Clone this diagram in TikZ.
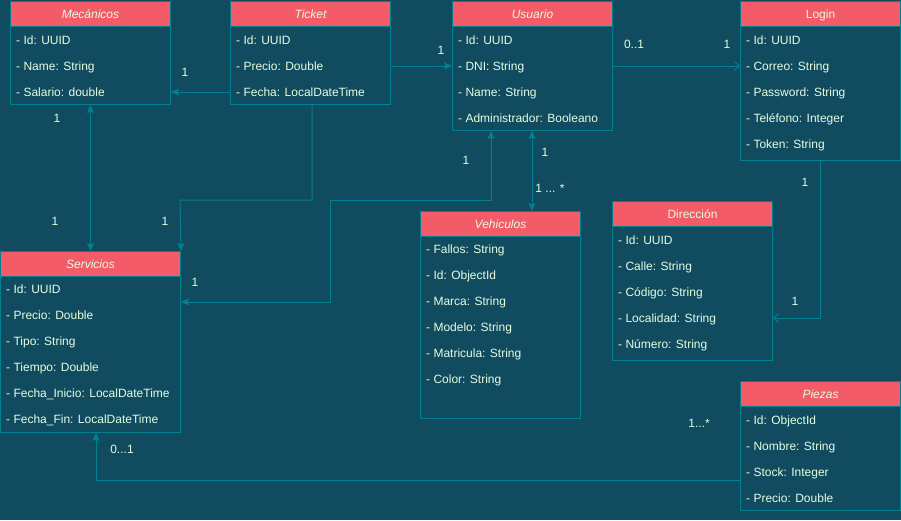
\documentclass[tikz,border=0pt]{standalone}
\usepackage{fontspec}
\setmainfont{Liberation Sans}
\usetikzlibrary{arrows.meta}
\definecolor{bg}{HTML}{114B5F}
\definecolor{head}{HTML}{F45B69}
\definecolor{edge}{HTML}{028090}
\definecolor{ink}{HTML}{E4FDE1}

\begin{document}
\begin{tikzpicture}[x=1pt,y=-1pt,
  font=\fontsize{12}{14}\selectfont,
  hdr/.style={draw=edge, fill=head, text=ink, line width=1pt, anchor=north west,
              inner sep=0pt, minimum width=#1, minimum height=25pt,
              text height=8.6pt, text depth=0pt},
  body/.style={draw=edge, fill=bg, line width=1pt, anchor=north west, inner sep=0pt},
  attr/.style={text=ink, anchor=base west, inner sep=0pt},
  lbl/.style={text=ink, inner sep=0pt},
  link/.style={draw=edge, line width=1pt},
  ftip/.tip={Stealth[length=8pt,width=7pt,inset=1.5pt]},
  otip/.tip={Straight Barb[length=5pt,width=9pt,line width=1pt]},
]
% background and page size
\fill[bg] (0,0) rectangle (901,520);
\useasboundingbox (0,0) rectangle (901,520);

% ---------- Mecánicos ----------
\node[hdr=160pt] (mecH) at (10,1) {\itshape Mecánicos};
\node[body, minimum width=160pt, minimum height=78pt] (mec) at (10,26) {};
\foreach \t [count=\i] in {- Id: UUID, - Name: String, - Salario: double}
  \node[attr] (mec-\i) at (16,{44.3+26*(\i-1)}) {\t};

% ---------- Ticket ----------
\node[hdr=160pt] (ticH) at (230,1) {\itshape Ticket};
\node[body, minimum width=160pt, minimum height=78pt] (tic) at (230,26) {};
\foreach \t [count=\i] in {- Id: UUID, - Precio: Double, - Fecha: LocalDateTime}
  \node[attr] (tic-\i) at (236,{44.3+26*(\i-1)}) {\t};

% ---------- Usuario ----------
\node[hdr=160pt] (usuH) at (452,1) {\itshape Usuario};
\node[body, minimum width=160pt, minimum height=104pt] (usu) at (452,26) {};
\foreach \t [count=\i] in {- Id: UUID, - DNI: String, - Name: String, - Administrador: Booleano}
  \node[attr] (usu-\i) at (458,{44.3+26*(\i-1)}) {\t};

% ---------- Login ----------
\node[hdr=160pt] (logH) at (740,1) {Login};
\node[body, minimum width=160pt, minimum height=134pt] (log) at (740,26) {};
\foreach \t [count=\i] in {- Id: UUID, - Correo: String, - Password: String, - Teléfono: Integer, - Token: String}
  \node[attr] (log-\i) at (746,{44.3+26*(\i-1)}) {\t};

% ---------- Servicios ----------
\node[hdr=180pt] (serH) at (0,251) {\itshape Servicios};
\node[body, minimum width=180pt, minimum height=156pt] (ser) at (0,276) {};
\foreach \t [count=\i] in {- Id: UUID, - Precio: Double, - Tipo: String, - Tiempo: Double,
    - Fecha\_Inicio: LocalDateTime, - Fecha\_Fin: LocalDateTime}
  \node[attr] (ser-\i) at (6,{293.3+26*(\i-1)}) {\t};

% ---------- Vehiculos ----------
\node[hdr=160pt] (vehH) at (420,211) {\itshape Vehiculos};
\node[body, minimum width=160pt, minimum height=182pt] (veh) at (420,236) {};
\foreach \t [count=\i] in {- Fallos: String, - Id: ObjectId, - Marca: String, - Modelo: String,
    - Matricula: String, - Color: String}
  \node[attr] (veh-\i) at (426,{253.6+26*(\i-1)}) {\t};

% ---------- Dirección ----------
\node[hdr=160pt] (dirH) at (612,201) {Dirección};
\node[body, minimum width=160pt, minimum height=134pt] (dir) at (612,226) {};
\foreach \t [count=\i] in {- Id: UUID, - Calle: String, - Código: String, - Localidad: String, - Número: String}
  \node[attr] (dir-\i) at (618,{244.3+26*(\i-1)}) {\t};

% ---------- Piezas ----------
\node[hdr=160pt] (pizH) at (740,381) {\itshape Piezas};
\node[body, minimum width=160pt, minimum height=104pt] (piz) at (740,406) {};
\foreach \t [count=\i] in {- Id: ObjectId, - Nombre: String, - Stock: Integer, - Precio: Double}
  \node[attr] (piz-\i) at (746,{424.3+26*(\i-1)}) {\t};

% ---------- associations ----------
\draw[link, -ftip] (tic.west |- 0,92) -- (mec.east |- 0,92);
\draw[link, -ftip] (tic.east |- 0,66) -- (usu.west |- 0,66);
\draw[link, -otip] (usu.east |- 0,66) -- (log.west |- 0,66);
\draw[link, ftip-ftip] (mec.south) -- (serH.north);
\draw[link, -ftip] (tic.south -| 312,0) -- (312,200) -- (180,200) -- (serH.north east);
\draw[link, ftip-ftip] (ser.east |- 0,302) -- (330,302) -- (330,200) -- (491,200) -- (usu.south -| 491,0);
\draw[link, ftip-ftip] (usu.south -| 532,0) -- (vehH.north -| 532,0);
\draw[link, -otip] (log.south) -- (log.south |- 0,318) -- (dir.east |- 0,318);
\draw[link, -ftip] (piz.west |- 0,480) -- (96,480) -- (ser.south -| 96,0);

% ---------- multiplicities ----------
\node[lbl] (m1) at (185,72) {1};
\node[lbl] (m2) at (441,50) {1};
\node[lbl] (m3) at (634,44) {0..1};
\node[lbl] (m4) at (727,44) {1};
\node[lbl] (m5) at (57,118) {1};
\node[lbl] (m6) at (55,221) {1};
\node[lbl] (m7) at (165,221) {1};
\node[lbl] (m8) at (195,282) {1};
\node[lbl] (m9) at (466,160) {1};
\node[lbl] (m10) at (545,152) {1};
\node[lbl] (m11) at (550,188) {1 ... *};
\node[lbl] (m12) at (805,182) {1};
\node[lbl] (m13) at (795,301) {1};
\node[lbl] (m14) at (699,423) {1...*};
\node[lbl] (m15) at (122,449) {0...1};
\end{tikzpicture}
\end{document}
